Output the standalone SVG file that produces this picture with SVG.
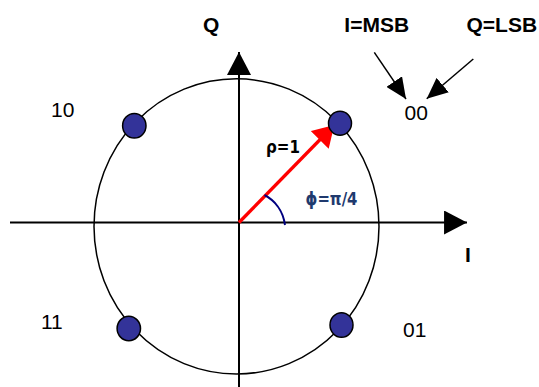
<svg xmlns="http://www.w3.org/2000/svg" width="539" height="387" viewBox="0 0 539 387">
<style>
.lbl{font-family:"Liberation Sans",Arial,sans-serif;font-size:21px;fill:#000}
.b{font-weight:bold}
.ax{stroke:#000;stroke-width:2;fill:none}
.dot{fill:#333399;stroke:#000;stroke-width:1.5}
.thin{stroke:#000;stroke-width:1.5;fill:none}
.greek{font-family:"DejaVu Sans",Verdana,sans-serif;font-weight:bold;font-size:17px}
</style>
<defs>
<marker id="axh" markerUnits="userSpaceOnUse" markerWidth="24" markerHeight="24" refX="22" refY="11.5" orient="auto" viewBox="0 0 22 23"><path d="M0,0 L22,11.5 L0,23 Z" fill="#000"/></marker>
<marker id="lh" markerUnits="userSpaceOnUse" markerWidth="21" markerHeight="19" refX="20" refY="9" orient="auto" viewBox="0 0 20 18"><path d="M0,0 L20,9 L0,18 Z" fill="#000"/></marker>
<marker id="rh" markerUnits="userSpaceOnUse" markerWidth="21" markerHeight="25" refX="20" refY="12" orient="auto" viewBox="0 0 20 24"><path d="M0,0 L20,12 L0,24 Z" fill="#ff0000"/></marker>
</defs>
<rect width="539" height="387" fill="#fff"/>
<g id="circle"><ellipse cx="236.5" cy="226.4" rx="142.5" ry="147.6" class="thin"/></g>
<g id="connectors">
<line id="i-axis" x1="10" y1="222.5" x2="467" y2="222.5" class="ax" marker-end="url(#axh)"/>
<line id="q-axis" x1="239" y1="387" x2="239" y2="52" class="ax" marker-end="url(#axh)"/>
<line id="msb-arrow" x1="374.3" y1="52.3" x2="406" y2="99" class="thin" marker-end="url(#lh)"/>
<line id="lsb-arrow" x1="473.3" y1="59" x2="426.7" y2="98.7" class="thin" marker-end="url(#lh)"/>
<line id="rho-vector" x1="239" y1="222.5" x2="334.3" y2="125" stroke="#ff0000" stroke-width="3.3" marker-end="url(#rh)"/>
<path id="phi-arc" d="M264.5,195 C274,200 283,210 285,225" fill="none" stroke="#000080" stroke-width="2"/>
</g>
<g id="p00"><ellipse cx="340" cy="123.3" rx="11.5" ry="12" class="dot"/><text class="lbl" x="404.5" y="120">00</text></g>
<g id="p10"><ellipse cx="134.3" cy="125.8" rx="11.7" ry="12.3" class="dot"/><text class="lbl" x="51" y="117">10</text></g>
<g id="p11"><ellipse cx="128.8" cy="328.5" rx="11.7" ry="12.2" class="dot"/><text class="lbl" x="41" y="328.5">11</text></g>
<g id="p01"><ellipse cx="341.5" cy="325" rx="11.5" ry="12.3" class="dot"/><text class="lbl" x="403" y="336.5">01</text></g>
<g id="labels">
<text class="lbl b" x="203" y="32.3">Q</text>
<text class="lbl b" x="344.3" y="32.3">I=MSB</text>
<text class="lbl b" x="466.5" y="32.3">Q=LSB</text>
<text class="lbl b" x="465" y="261.7">I</text>
<text class="greek" x="266" y="152.5" fill="#000" textLength="34" lengthAdjust="spacingAndGlyphs">ρ=1</text>
<text class="greek" x="305.5" y="204.5" fill="#1f3a6e" textLength="52" lengthAdjust="spacingAndGlyphs">ϕ=π/4</text>
</g>
</svg>
